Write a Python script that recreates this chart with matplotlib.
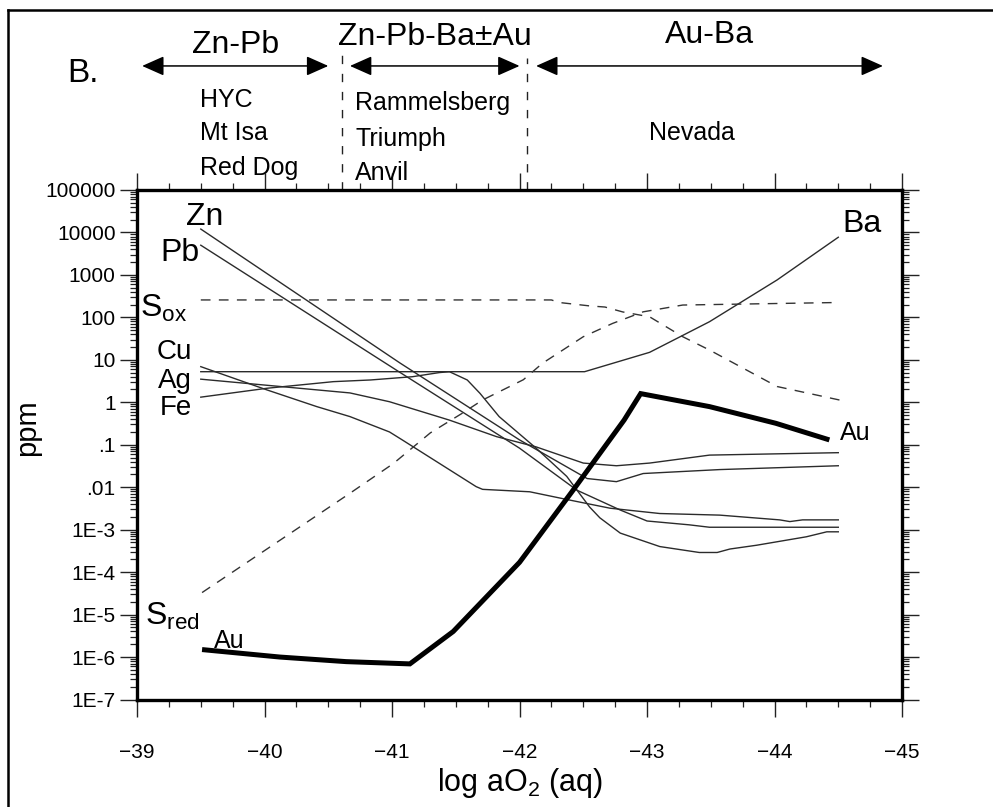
import numpy as np
import matplotlib
matplotlib.use("Agg")
import matplotlib.pyplot as plt
from matplotlib.lines import Line2D
from matplotlib.patches import FancyArrowPatch
from matplotlib.ticker import FixedLocator, MultipleLocator, LogLocator, NullFormatter
import matplotlib.transforms as mtransforms

plt.rcParams['font.family'] = ['Liberation Sans', 'DejaVu Sans']
plt.rcParams['mathtext.fontset'] = 'custom'
plt.rcParams['mathtext.rm'] = 'Liberation Sans'
plt.rcParams['mathtext.default'] = 'regular'

# ---- data: log aO2 (x) and ppm (y) ----
zn_x = [-39.5, -41.06, -42.0, -42.53, -42.76, -42.97, -43.57, -44.5]
zn_y = [1.2e4, 8.5, 0.13, 0.016, 0.0135, 0.021, 0.026, 0.032]

pb_x = [-39.5, -41.06, -42.0, -42.45, -42.79, -43.0, -43.33, -43.49, -44.5]
pb_y = [5000, 5.1, 0.083, 0.0085, 0.0029, 0.0016, 0.0013, 0.00114, 0.00114]

ag_x = [-39.5, -40.67, -40.98, -41.45, -41.82, -42.13, -42.5, -42.76, -43.02, -43.49, -44.5]
ag_y = [3.5, 1.66, 1.03, 0.38, 0.155, 0.089, 0.037, 0.032, 0.037, 0.057, 0.065]

cu_x = [-39.5, -40.02, -40.41, -40.67, -40.98, -41.08, -41.66, -41.71, -42.08,
        -42.39, -42.71, -43.10, -43.57, -44.04, -44.12, -44.22, -44.5]
cu_y = [6.9, 1.95, 0.79, 0.46, 0.20, 0.13, 0.0103, 0.0089, 0.0078,
        0.0050, 0.0032, 0.0024, 0.0022, 0.0017, 0.00155, 0.0017, 0.0017]

fe_x = [-39.5, -40.02, -40.54, -40.83, -41.16, -41.37, -41.45, -41.59, -41.69,
        -41.84, -42.13, -42.37, -42.55, -42.63, -42.79, -43.10, -43.41, -43.55,
        -43.65, -43.86, -44.25, -44.41, -44.5]
fe_y = [1.32, 2.14, 3.06, 3.35, 4.0, 5.0, 5.25, 3.35, 1.62,
        0.46, 0.083, 0.018, 0.0034, 0.0019, 8.3e-4, 4.0e-4, 2.9e-4, 2.9e-4,
        3.5e-4, 4.3e-4, 6.8e-4, 8.9e-4, 8.9e-4]

ba_x = [-39.5, -42.51, -43.02, -43.26, -43.49, -44.02, -44.5]
ba_y = [5.25, 5.25, 15, 35, 79, 760, 7700]

au_x = [-39.51, -40.12, -40.64, -41.14, -41.48, -42.0, -42.42, -42.82, -42.95,
        -43.49, -44.01, -44.43]
au_y = [1.5e-6, 1.0e-6, 7.8e-7, 6.9e-7, 4.0e-6, 1.7e-4, 8.5e-3, 0.38, 1.6,
        0.79, 0.32, 0.13]

sox_x = [-39.5, -42.25, -42.31, -42.55, -42.67, -42.81, -43.02, -43.28, -43.49,
         -44.02, -44.51]
sox_y = [257, 257, 224, 186, 175, 134, 103, 35, 17, 2.35, 1.13]

sred_x = [-39.51, -40.67, -41.01, -41.30, -41.55, -41.71, -42.03, -42.18, -42.50,
          -42.73, -42.97, -43.28, -44.51]
sred_y = [3.3e-5, 7.2e-3, 0.036, 0.19, 0.55, 1.13, 3.4, 8.3, 35,
          72, 135, 195, 224]

ytick_vals = [1e-7, 1e-6, 1e-5, 1e-4, 1e-3, 1e-2, 1e-1, 1, 10, 100, 1000, 1e4, 1e5]
ytick_labels = ['1E-7', '1E-6', '1E-5', '1E-4', '1E-3', '.01', '.1', '1', '10',
                '100', '1000', '10000', '100000']
xtick_vals = [-39, -40, -41, -42, -43, -44, -45]
xtick_labels = ['\u221239', '\u221240', '\u221241', '\u221242', '\u221243',
                '\u221244', '\u221245']

# deposit groups along the aO2 axis
group_names = ['Zn-Pb', 'Zn-Pb-Ba\u00b1Au', 'Au-Ba']
group_spans = [(-39.04, -40.50), (-40.67, -42.0), (-42.13, -44.85)]
divider_x = [-40.61, -42.06]


def main():
    fig = plt.figure(figsize=(9.93, 8.07), dpi=100)
    ax = fig.add_axes([0.138, 0.1332, 0.7704, 0.6314])

    thin = dict(color='#2b2b2b', lw=1.0)
    dash = dict(color='#333333', lw=1.0, dashes=(7, 6))
    ax.plot(zn_x, zn_y, **thin)
    ax.plot(pb_x, pb_y, **thin)
    ax.plot(ag_x, ag_y, **thin)
    ax.plot(cu_x, cu_y, **thin)
    ax.plot(fe_x, fe_y, **thin)
    ax.plot(ba_x, ba_y, **thin)
    ax.plot(sox_x, sox_y, **dash)
    ax.plot(sred_x, sred_y, **dash)
    ax.plot(au_x, au_y, color='black', lw=3.6, solid_capstyle='butt',
            solid_joinstyle='miter')

    ax.set_yscale('log')
    ax.set_xlim(-39, -45)
    ax.set_ylim(1e-7, 1e5)

    ax.yaxis.set_major_locator(FixedLocator(ytick_vals))
    ax.set_yticklabels(ytick_labels)
    ax.yaxis.set_minor_locator(LogLocator(base=10, subs=np.arange(2, 10), numticks=100))
    ax.yaxis.set_minor_formatter(NullFormatter())
    ax.xaxis.set_major_locator(FixedLocator(xtick_vals))
    ax.set_xticklabels(xtick_labels)
    ax.xaxis.set_minor_locator(MultipleLocator(0.25))

    ax.tick_params(which='major', direction='out', length=12, width=1.0,
                   top=True, right=True, color='#222')
    ax.tick_params(which='minor', direction='out', length=5, width=0.9,
                   top=True, right=True, color='#222')
    ax.tick_params(axis='x', which='major', pad=19, labelsize=15)
    ax.tick_params(axis='y', which='major', pad=3.5, labelsize=15)
    for sp in ax.spines.values():
        sp.set_linewidth(2.4)

    ax.set_ylabel('ppm', fontsize=21)
    ax.yaxis.set_label_coords(-0.125, 0.533)
    ax.set_xlabel('log aO$_2$ (aq)', fontsize=22, labelpad=3)

    # curve labels
    big = 23
    ax.text(-39.53, 2.3e4, 'Zn', fontsize=big, ha='center', va='center')
    ax.text(-39.34, 3300, 'Pb', fontsize=big, ha='center', va='center')
    ax.text(-39.024, 102, 'S$_{ox}$', fontsize=big, ha='left', va='baseline')
    ax.text(-39.43, 10.5, 'Cu', fontsize=20, ha='right', va='baseline')
    ax.text(-39.43, 2.2, 'Ag', fontsize=20, ha='right', va='baseline')
    ax.text(-39.43, 0.5, 'Fe', fontsize=20, ha='right', va='baseline')
    ax.text(-39.063, 5.7e-6, 'S$_{red}$', fontsize=big, ha='left', va='baseline')
    ax.text(-39.60, 1.6e-6, 'Au', fontsize=18, ha='left', va='baseline')
    ax.text(-44.53, 1.03e4, 'Ba', fontsize=big, ha='left', va='baseline')
    ax.text(-44.51, 0.13, 'Au', fontsize=18, ha='left', va='baseline')

    # header above the plot: x in data, y in axes fraction
    trans = mtransforms.blended_transform_factory(ax.transData, ax.transAxes)
    name_y = [1.2689, 1.2846, 1.2885]
    for name, (x0, x1), yy in zip(group_names, group_spans, name_y):
        ax.text((x0 + x1) / 2, yy, name, transform=trans, fontsize=big,
                ha='center', va='baseline', clip_on=False)
        arr = FancyArrowPatch((x0, 1.2434), (x1, 1.2434), transform=trans,
                              arrowstyle='<|-|>, head_length=0.45, head_width=0.2',
                              mutation_scale=30, color='black', lw=1.1,
                              clip_on=False, shrinkA=0, shrinkB=0)
        ax.add_artist(arr)

    for xd, ytop in zip(divider_x, [1.269, 1.259]):
        ax.add_line(Line2D([xd, xd], [1.0, ytop], transform=trans, color='#222',
                           lw=1.0, dashes=(6, 7), clip_on=False))

    sites = [('HYC', -39.49, 1.1629), ('Mt Isa', -39.49, 1.0982),
             ('Red Dog', -39.49, 1.0294), ('Rammelsberg', -40.71, 1.157),
             ('Triumph', -40.71, 1.0864), ('Anvil', -40.71, 1.0196)]
    for s, xs, ys in sites:
        ax.text(xs, ys, s, transform=trans, fontsize=18, ha='left',
                va='baseline', clip_on=False)
    ax.text(-43.35, 1.0982, 'Nevada', transform=trans, fontsize=18,
            ha='center', va='baseline', clip_on=False)

    fig.text(67 / 993, 1 - 82 / 807, 'B.', fontsize=24, ha='left', va='baseline')

    # outer frame of the panel
    fig.add_artist(Line2D([8 / 993, 8 / 993], [1 - 10 / 807, 0],
                          transform=fig.transFigure, color='black', lw=1.8))
    fig.add_artist(Line2D([8 / 993, 1], [1 - 10 / 807, 1 - 10 / 807],
                          transform=fig.transFigure, color='black', lw=1.8))

    fig.savefig('out.png', dpi=100)


if __name__ == '__main__':
    main()
